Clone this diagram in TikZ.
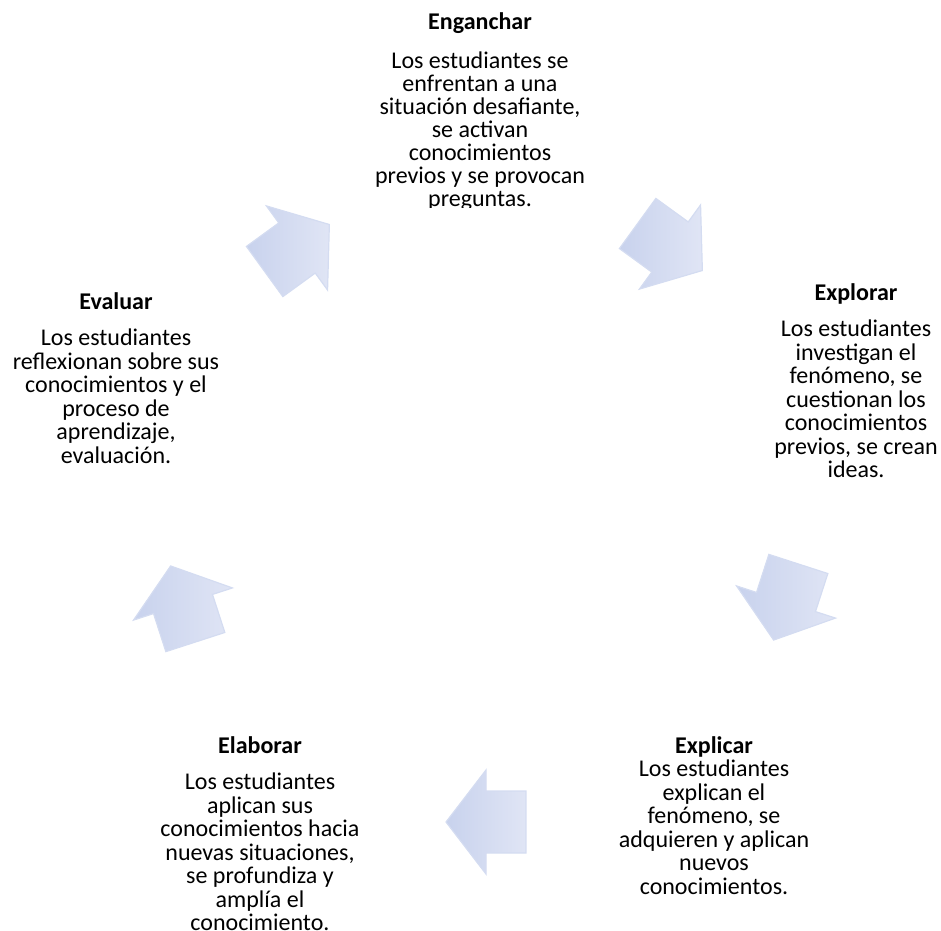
\documentclass[tikz,border=0pt]{standalone}
\usepackage{fontspec}
\setmainfont{Carlito}
\definecolor{arrA}{RGB}{200,210,237}
\definecolor{arrB}{RGB}{224,229,245}
\tikzset{
  cyclearrow/.style={left color=arrA, right color=arrB, draw=none},
  pics/bigarrow/.style={code={
    \shade[cyclearrow] (-40,-31) -- (0,-31) -- (0,-52) -- (40,0) -- (0,52) -- (0,31) -- (-40,31) -- cycle;
    \draw[arrA!50!arrB, line width=1.2pt, line join=miter] (-40,-31) -- (0,-31) -- (0,-52) -- (40,0) -- (0,52) -- (0,31) -- (-40,31) -- cycle;}},
  stage/.style={align=center, inner sep=0pt, anchor=north, font=\fontsize{24}{23.5}\selectfont}
}
\begin{document}
\begin{tikzpicture}[x=1pt,y=-1pt]
\useasboundingbox (0,0) rectangle (941,930);
% arrows
\pic (a1) [rotate=36]   at (297,248) {bigarrow};
\pic (a2) [rotate=-36]  at (670,247) {bigarrow};
\pic (a3) [rotate=-108] at (786,602) {bigarrow};
\pic (a4) [rotate=180]  at (486,822) {bigarrow};
\pic (a5) [rotate=108]  at (183,604) {bigarrow};
% texts
\begin{scope}
\clip (300,0) rectangle (660,207);
\node[stage, font=\fontsize{24}{23}\selectfont] (enganchar) at (480,12) {\textbf{Enganchar}\\[16pt]Los estudiantes se\\enfrentan a una\\situación desafiante,\\se activan\\conocimientos\\previos y se provocan\\preguntas.};
\end{scope}
\node[stage] (explorar) at (856,283) {\textbf{Explorar}\\[13pt]Los estudiantes\\investigan el\\fenómeno, se\\cuestionan los\\conocimientos\\previos, se crean\\ideas.};
\node[stage] (explicar) at (714,736) {\textbf{Explicar}\\Los estudiantes\\explican el\\fenómeno, se\\adquieren y aplican\\nuevos\\conocimientos.};
\node[stage] (elaborar) at (260,736) {\textbf{Elaborar}\\[13pt]Los estudiantes\\aplican sus\\conocimientos hacia\\nuevas situaciones,\\se profundiza y\\amplía el\\conocimiento.};
\node[stage] (evaluar) at (116,292) {\textbf{Evaluar}\\[13pt]Los estudiantes\\reflexionan sobre sus\\conocimientos y el\\proceso de\\aprendizaje,\\evaluación.};
\end{tikzpicture}
\end{document}
